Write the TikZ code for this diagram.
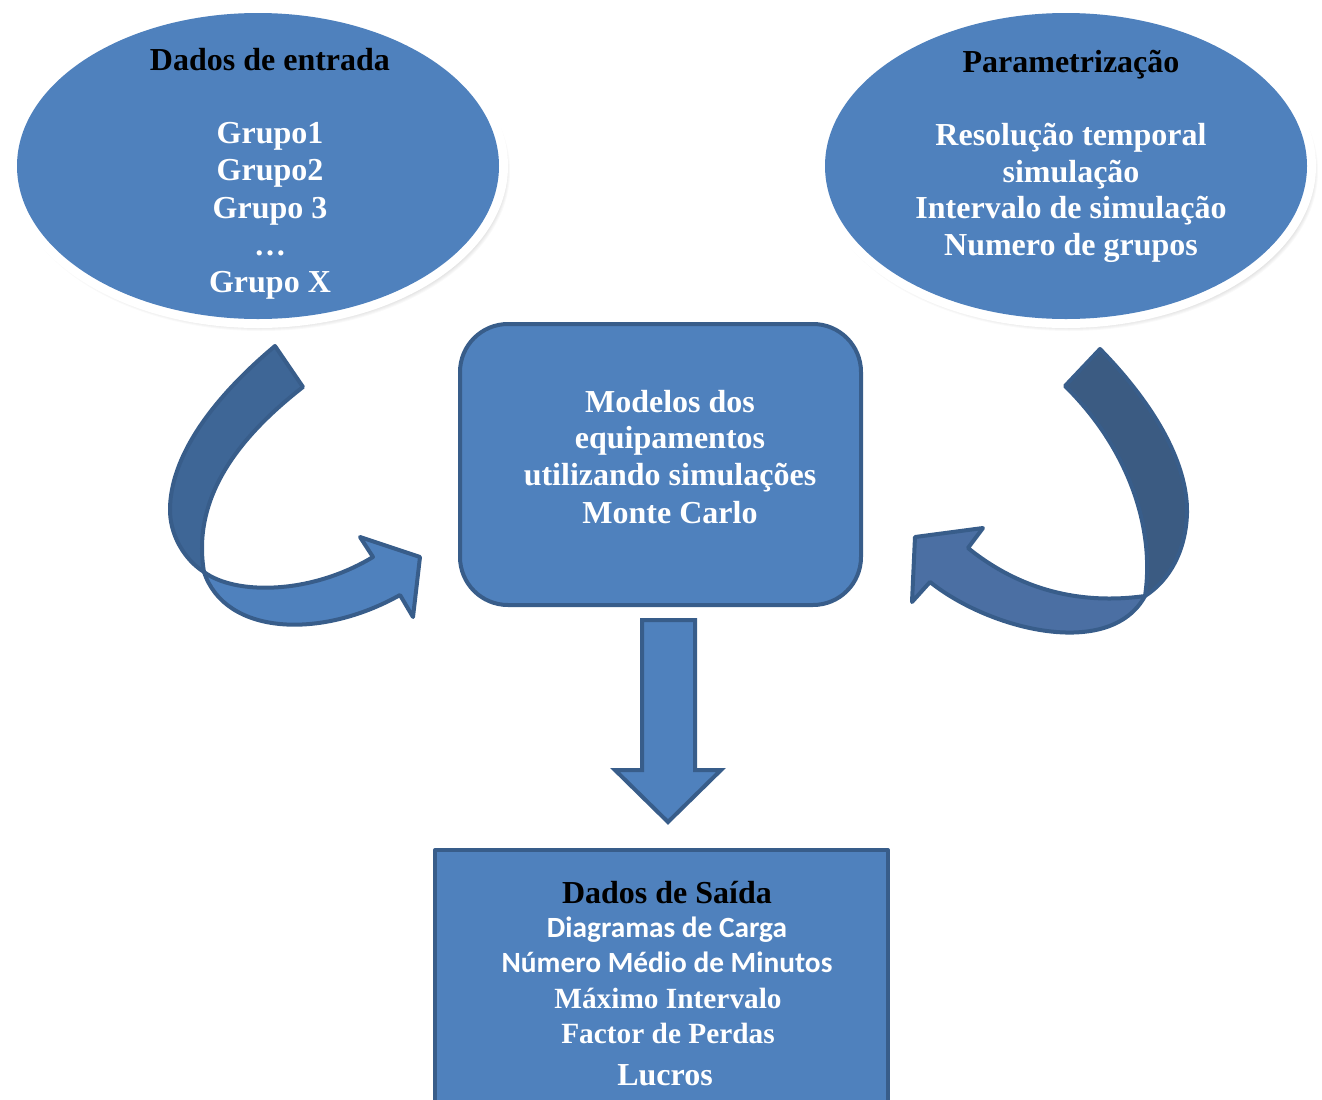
\documentclass[tikz,border=0pt]{standalone}
\usepackage{fontspec}
\setmainfont{Liberation Serif}
\newfontfamily\timesfont{Liberation Serif}
\newfontfamily\calibfont{Carlito}
\definecolor{ofblue}{HTML}{4F81BD}
\definecolor{ofline}{HTML}{385D8A}
\definecolor{backL}{HTML}{3E6696}
\definecolor{backR}{HTML}{3B5B82}
\definecolor{frontR}{HTML}{4B6FA3}
\tikzset{
  shapeline/.style={draw=ofline, line width=3pt, line join=round},
  txt/.style={anchor=base, inner sep=0pt, text=white,
    font=\timesfont\bfseries\fontsize{24}{28}\selectfont},
  head/.style={txt, text=black, font=\timesfont\bfseries\fontsize{24}{28}\selectfont},
  sanstxt/.style={txt, font=\calibfont\bfseries\fontsize{22}{26}\selectfont},
  smalltxt/.style={txt, font=\timesfont\bfseries\fontsize{22}{26}\selectfont},
}
\begin{document}
\begin{tikzpicture}[x=0.75pt,y=-0.75pt]
\useasboundingbox (0,0) rectangle (1322,1100);
\clip (0,0) rectangle (1322,1100);

% soft shadows under the two ellipses
\foreach \c in {258,1066}{
  \foreach \k in {1,...,8}{
    \fill[black, opacity=0.025] (\c+3,171) ellipse [x radius=250-\k, y radius=161-\k];
  }
}
% ellipses with white rim
\foreach \c in {258,1066}{
  \fill[white] (\c,166) ellipse [x radius=250, y radius=162];
  \fill[ofblue] (\c,166) ellipse [x radius=241, y radius=153];
}

% central rounded box
\draw[shapeline, fill=ofblue, rounded corners=36pt] (460,324) rectangle (861,605);

% output box
\draw[shapeline, fill=ofblue] (435,850) rectangle (888,1115);

% down block arrow
\draw[shapeline, fill=ofblue, line join=miter]
  (642,620) -- (695,620) -- (695,770) -- (721,770) -- (668,822)
  -- (615,770) -- (642,770) -- cycle;

% left curved arrow: back (dark) and front (light) faces
\draw[shapeline, fill=backL]
  (275,346) .. controls (220,392) and (172,450) .. (170,507)
  .. controls (169,535) and (185,560) .. (204,572)
  .. controls (192,500) and (235,440) .. (303,387) -- cycle;
\draw[shapeline, fill=ofblue]
  (204,572) .. controls (235,595) and (310,595) .. (373,557)
  -- (360,537) -- (420,557) -- (413,617) -- (400,595)
  .. controls (320,640) and (225,635) .. (204,572) -- cycle;

% right curved arrow: back (dark) and front (light) faces
\draw[shapeline, fill=backR]
  (1100,349) .. controls (1150,400) and (1188,460) .. (1187,513)
  .. controls (1186,550) and (1170,580) .. (1145,596)
  .. controls (1155,530) and (1130,450) .. (1065,386) -- cycle;
\draw[shapeline, fill=frontR]
  (1145,596) .. controls (1080,605) and (1020,590) .. (968,548)
  -- (983,528) -- (915,537) -- (912,602) -- (930,582)
  .. controls (990,630) and (1110,660) .. (1145,596) -- cycle;

% input data
\node[head] (inTitle) at (270,70) {Dados de entrada};
\node[txt] (inA) at (270,143) {Grupo1};
\node[txt] (inB) at (270,180) {Grupo2};
\node[txt] (inC) at (270,218) {Grupo 3};
\node[txt] (inD) at (270,255) {…};
\node[txt] (inE) at (270,292) {Grupo X};

% parameters
\node[head] (parTitle) at (1071,72) {Parametrização};
\node[txt] (parA) at (1071,145) {Resolução temporal};
\node[txt] (parB) at (1071,182) {simulação};
\node[txt] (parC) at (1071,218) {Intervalo de simulação};
\node[txt] (parD) at (1071,255) {Numero de grupos};

% models
\node[txt] (modA) at (670,412) {Modelos dos};
\node[txt] (modB) at (670,448) {equipamentos};
\node[txt] (modC) at (670,485) {utilizando simulações};
\node[txt] (modD) at (670,523) {Monte Carlo};

% outputs
\node[head] (outTitle) at (667,903) {Dados de Saída};
\node[sanstxt] (outA) at (667,937) {Diagramas de Carga};
\node[sanstxt] (outB) at (667,972) {Número Médio de Minutos};
\node[smalltxt] (outC) at (668,1008) {Máximo Intervalo};
\node[smalltxt] (outD) at (668,1043) {Factor de Perdas};
\node[txt] (outE) at (665,1085) {Lucros};
\end{tikzpicture}
\end{document}
